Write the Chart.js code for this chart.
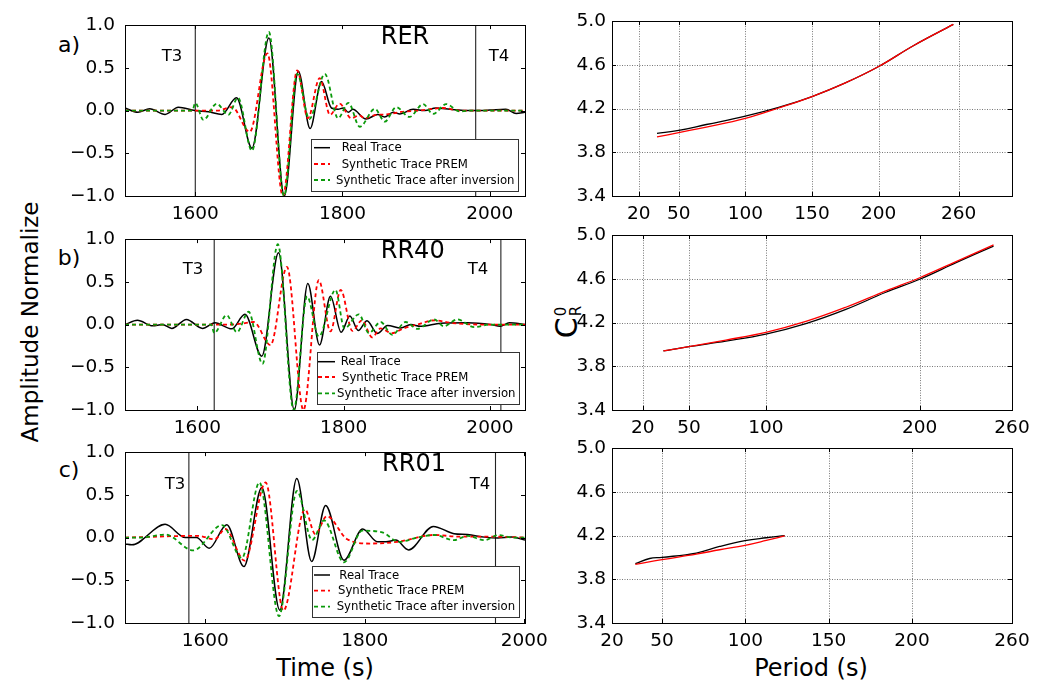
<!DOCTYPE html>
<html><head><meta charset="utf-8">
<script src="https://cdn.jsdelivr.net/npm/chart.js@4.4.0/dist/chart.umd.min.js"></script>
<style>
html,body{margin:0;padding:0;background:#fff;}
body{width:1049px;height:685px;overflow:hidden;position:relative;font-family:"DejaVu Sans",sans-serif;}
canvas{position:absolute;}
.lbl{position:absolute;white-space:nowrap;color:#000;transform:translate(-50%,-50%);line-height:1;}
.rot{transform:translate(-50%,-50%) rotate(-90deg);}
</style></head><body>
<div class="lbl" style="left:69px;top:45px;font-size:22px">a)</div>
<div class="lbl" style="left:69px;top:258px;font-size:22px">b)</div>
<div class="lbl" style="left:69px;top:470px;font-size:22px">c)</div>
<div class="lbl rot" style="left:30px;top:322px;font-size:23px">Amplitude Normalize</div>
<div class="lbl" style="left:325px;top:668px;font-size:24px">Time (s)</div>
<div class="lbl" style="left:811px;top:668px;font-size:24px">Period (s)</div>
<div class="lbl rot" style="left:568px;top:322px;font-size:30px">C<span style="display:inline-flex;flex-direction:column;font-size:15px;line-height:1;vertical-align:middle;margin-left:1px"><span>0</span><span>R</span></span></div>
<script>
// ---------- DATA ----------
const legendLabels = ['Real Trace', 'Synthetic Trace PREM', 'Synthetic Trace after inversion'];
const stationNames = ['RER', 'RR40', 'RR01'];

// Panel a) RER  (time s, normalized amplitude)
const rerRealT = [1504.5,1522,1538,1559,1577,1599.5,1618,1636,1656,1677,1700,1721,1740,1756,1771.5,1785,1794,1801,1808,1814,1832,1848,1857,1869,1878,1896,1912,1927,1946,1968,1982,2000,2022,2036,2048];
const rerRealA = [0.03,-0.02,0.02,-0.045,0.04,0.0,-0.015,-0.045,0.15,-0.44,0.85,-1.0,0.46,-0.21,0.34,0.03,0.015,0.03,-0.02,0.015,-0.1,-0.045,-0.075,-0.02,-0.04,0.015,0.0,0.03,0.015,0.0,0.0,0.005,0.015,-0.035,-0.02];
const rerPremT = [1504.5,1630,1650,1674,1698,1719,1738.5,1753,1769,1783,1796,1812,1823,1830,1846,1860,1880,1905,1937,1960,2000,2048];
const rerPremA = [0,0,0.04,-0.25,0.67,-1.0,0.47,-0.09,0.38,-0.05,0.08,-0.09,-0.055,-0.09,-0.05,-0.045,-0.015,0.0,0.03,0.0,0.0,0.0];
const rerInvT = [1504.5,1596,1600,1611,1629,1645,1658,1677,1700,1720.5,1738.5,1755,1776,1794,1808,1823.5,1844,1857.5,1873,1891,1909.5,1923,1941,1959,1977,2048];
const rerInvA = [0,0,0.09,-0.11,0.08,-0.05,0.15,-0.47,0.92,-1.0,0.43,-0.1,0.43,-0.09,0.09,-0.19,0.02,-0.13,0.04,-0.075,0.075,-0.04,0.075,-0.01,0.0,0.0];
const rerMarks = [1600, 1981];

// Panel b) RR40
const rr40RealT = [1501,1518,1539,1552,1565,1585,1607,1624,1647,1665,1688,1711,1732.5,1751,1767,1782,1796.6,1808.5,1820,1832,1846,1860,1878,1892,1905,1933,1969,2001,2014,2026.5,2048];
const rr40RealA = [0,0.05,-0.015,0.0,-0.045,0.06,-0.045,0.02,-0.05,0.12,-0.37,0.84,-1.0,0.48,-0.24,0.33,-0.09,0.1,-0.07,0.045,-0.105,-0.01,-0.04,0.0,-0.02,0.015,0.02,0.0,-0.02,0.02,0.0];
const rr40PremT = [1501,1640,1660,1677,1700,1722.5,1745,1766,1782,1796,1812,1825,1839,1850.5,1866,1882,1901,1924,1946,1990,2048];
const rr40PremA = [0,0,0.01,0.03,-0.24,0.675,-1.0,0.52,-0.08,0.405,-0.075,0.05,-0.15,-0.045,-0.1,-0.045,0.0,0.05,0.02,0.0,0.0];
const rr40InvT = [1501,1619,1623,1640,1654,1670,1689,1710,1731.7,1750,1766,1788.8,1801,1820.8,1834.5,1850.5,1866.5,1884.8,1901,1923.7,1937,1955.6,1978.5,2001,2048];
const rr40InvA = [0,0,-0.1,0.11,-0.09,0.15,-0.46,0.94,-1.0,0.33,-0.14,0.405,-0.045,0.12,-0.1,0.03,-0.12,0.03,-0.05,0.06,-0.02,0.06,-0.03,0.0,0.0];
const rr40Marks = [1623, 2015];

// Panel c) RR01
const rr01RealT = [1499.4,1508,1549.7,1575,1589,1605,1627,1648.5,1671,1693.5,1714.8,1733.5,1751,1774,1797.5,1816,1826.7,1839,1855,1886,1912,1929,1950,1967,1984,2001];
const rr01RealA = [-0.075,-0.085,0.155,0.0,0.0,-0.125,0.15,-0.34,0.585,-0.85,0.69,-0.28,0.375,-0.265,0.1,-0.05,-0.05,-0.03,-0.145,0.13,0.045,0.035,0.005,-0.005,0.005,-0.03];
const rr01PremT = [1499.4,1590,1612,1625,1649.5,1675.8,1698,1725,1738,1752.5,1778,1807.5,1841,1887,1920,1962,2001];
const rr01PremA = [0,0.02,-0.02,0.1,-0.27,0.645,-0.855,0.33,0.04,0.25,-0.02,-0.07,-0.05,0.03,0.01,0.01,0.0];
const rr01InvT = [1499.4,1520,1550,1585,1621,1646,1668,1692.5,1715,1734,1749,1774,1797,1822,1843,1866,1887,1912,1929,1950,1968,1985,2001];
const rr01InvA = [0,0.0,0.035,-0.15,0.145,-0.24,0.645,-0.92,0.545,-0.03,0.2,-0.29,0.08,0.06,-0.05,0.0,0.03,-0.03,0.02,-0.03,0.03,0.0,0.0];
const rr01Marks = [1579.5, 1964];

const waveXRange = [[1504.5, 2048], [1501, 2048], [1499.4, 2001]];
const waveXTicks = [1600, 1800, 2000];
const waveYTicks = [-1.0, -0.5, 0.0, 0.5, 1.0];

// Dispersion panels (period s, C_R^0 km/s)
const disp1PerBlack = [33.75,50,70.75,100,125,150,175,200,226,256];
const disp1VelBlack = [3.973,4.0,4.054,4.13,4.21,4.31,4.435,4.585,4.775,4.97];
const disp1PerRed   = [33.75,50,70.75,100,125,150,175,200,226,256];
const disp1VelRed   = [3.94,3.98,4.03,4.11,4.205,4.31,4.435,4.585,4.775,4.97];
const disp2PerBlack = [33.4,50,74,100,126,152,178,200,224,248];
const disp2VelBlack = [3.94,3.98,4.03,4.094,4.19,4.32,4.477,4.596,4.75,4.90];
const disp2PerRed   = [33.4,50,74,100,126,152,178,200,224,248];
const disp2VelRed   = [3.94,3.98,4.04,4.11,4.21,4.34,4.49,4.61,4.76,4.91];
const disp3PerBlack = [34,42.6,50,70.6,84.6,99.8,112.6,123.6];
const disp3VelBlack = [3.943,3.99,4.0,4.04,4.1,4.153,4.18,4.2];
const disp3PerRed   = [34,50,70.6,84.6,99.8,112.6,123.6];
const disp3VelRed   = [3.937,3.98,4.03,4.07,4.11,4.155,4.197];

const dispXRange = [[0, 300], [0, 260], [20, 260]];
const dispXTicks = [[20,50,100,150,200,260], [20,50,100,200,260], [20,50,100,150,200,260]];
const dispYTicks = [3.4, 3.8, 4.2, 4.6, 5.0];

// ---------- DRAWING ----------
const FONT = '"DejaVu Sans", sans-serif';
const pts = (xs, ys) => xs.map((x, i) => ({x: x, y: ys[i]}));
const RED = '#ff0000', GREEN = '#0a9a0a';
const DASH = [4, 3];

const decor = {
  id: 'decor',
  beforeDatasetsDraw(chart, args, o) {
    if (!o.grid) return;
    const {ctx, chartArea: a, scales: {x, y}} = chart;
    ctx.save();
    ctx.strokeStyle = '#777'; ctx.lineWidth = 1; ctx.setLineDash([1, 1.5]);
    x.ticks.forEach(t => { const p = Math.round(x.getPixelForValue(t.value)) + 0.5;
      ctx.beginPath(); ctx.moveTo(p, a.top); ctx.lineTo(p, a.bottom); ctx.stroke(); });
    y.ticks.forEach(t => { const p = Math.round(y.getPixelForValue(t.value)) + 0.5;
      ctx.beginPath(); ctx.moveTo(a.left, p); ctx.lineTo(a.right, p); ctx.stroke(); });
    ctx.restore();
  },
  afterDatasetsDraw(chart, args, o) {
    const {ctx, chartArea: a, scales: {x, y}} = chart;
    ctx.save();
    ctx.setLineDash([]);
    ctx.strokeStyle = '#000'; ctx.lineWidth = 1;
    const L = 4;
    x.ticks.forEach(t => { const p = Math.round(x.getPixelForValue(t.value)) + 0.5;
      ctx.beginPath(); ctx.moveTo(p, a.bottom); ctx.lineTo(p, a.bottom - L);
      ctx.moveTo(p, a.top); ctx.lineTo(p, a.top + L); ctx.stroke(); });
    y.ticks.forEach(t => { const p = Math.round(y.getPixelForValue(t.value)) + 0.5;
      ctx.beginPath(); ctx.moveTo(a.left, p); ctx.lineTo(a.left + L, p);
      ctx.moveTo(a.right, p); ctx.lineTo(a.right - L, p); ctx.stroke(); });
    ctx.strokeRect(Math.round(a.left) + 0.5, Math.round(a.top) + 0.5, Math.round(a.right - a.left), Math.round(a.bottom - a.top));
    const ox = o.ox, oy = o.oy;
    ctx.fillStyle = '#000'; ctx.textBaseline = 'middle'; ctx.textAlign = 'center';
    (o.texts || []).forEach(t => {
      ctx.font = t.size + 'px ' + FONT;
      ctx.fillText(t.text, t.x - ox, t.y - oy);
    });
    if (o.legend) {
      const lg = o.legend;
      ctx.fillStyle = '#fff'; ctx.strokeStyle = '#333'; ctx.lineWidth = 1;
      ctx.fillRect(lg.box[0] - ox, lg.box[1] - oy, lg.box[2] - lg.box[0], lg.box[3] - lg.box[1]);
      ctx.strokeRect(Math.round(lg.box[0] - ox) + 0.5, Math.round(lg.box[1] - oy) + 0.5, Math.round(lg.box[2] - lg.box[0]), Math.round(lg.box[3] - lg.box[1]));
      ctx.textAlign = 'left'; ctx.font = '11.7px ' + FONT;
      const styles = [{c: '#000', d: [], w: 1.5}, {c: RED, d: DASH, w: 1.8}, {c: GREEN, d: DASH, w: 1.8}];
      legendLabels.forEach((lab, i) => {
        const yy = lg.rows[i] - oy;
        ctx.strokeStyle = styles[i].c; ctx.lineWidth = styles[i].w; ctx.setLineDash(styles[i].d);
        ctx.beginPath(); ctx.moveTo(lg.line[0] - ox, yy); ctx.lineTo(lg.line[1] - ox, yy); ctx.stroke();
        ctx.fillStyle = '#000';
        ctx.fillText(lab, lg.tx[i] - ox, yy + 0.5);
      });
      ctx.setLineDash([]);
    }
    ctx.restore();
  }
};
Chart.register(decor);

const AXW = 55, PADR = 30, PADT = 14, AXH = 34;
function makePanel(areaX, areaY, areaW, areaH, xr, xt, yr, yt, yfmt, ypad, datasets, decorOpts) {
  const cv = document.createElement('canvas');
  const W = AXW + areaW + PADR, H = PADT + areaH + AXH;
  cv.width = W; cv.height = H;
  const left = areaX - AXW, top = areaY - PADT;
  cv.style.left = left + 'px'; cv.style.top = top + 'px';
  cv.style.width = W + 'px'; cv.style.height = H + 'px';
  document.body.appendChild(cv);
  decorOpts.ox = left; decorOpts.oy = top;
  return new Chart(cv, {
    type: 'line',
    data: {datasets: datasets},
    options: {
      responsive: false, animation: false, events: [], devicePixelRatio: window.devicePixelRatio || 1,
      layout: {padding: {left: 0, right: PADR, top: PADT, bottom: 0}, autoPadding: false},
      plugins: {legend: {display: false}, tooltip: {enabled: false}, decor: decorOpts},
      elements: {point: {radius: 0}},
      scales: {
        x: {type: 'linear', min: xr[0], max: xr[1],
            afterBuildTicks: s => { s.ticks = xt.map(v => ({value: v})); },
            afterFit: s => { s.height = AXH; },
            grid: {display: false, drawTicks: false}, border: {display: false},
            ticks: {font: {family: FONT, size: 18.5}, color: '#000', padding: 7, maxRotation: 0, minRotation: 0, autoSkip: false,
                    callback: v => String(v)}},
        y: {type: 'linear', min: yr[0], max: yr[1],
            afterBuildTicks: s => { s.ticks = yt.map(v => ({value: v})); },
            afterFit: s => { s.width = AXW; },
            grid: {display: false, drawTicks: false}, border: {display: false},
            ticks: {font: {family: FONT, size: 18.5}, color: '#000', padding: ypad, autoSkip: false, callback: yfmt}}
      }
    }
  });
}

const waveFmt = v => (v < 0 ? '\u2212' : '') + Math.abs(v).toFixed(1);
const dispFmt = v => v.toFixed(1);

function waveSets(rt, ra, pt, pa, it, ia, marks) {
  const sets = [
    {data: pts(it, ia), borderColor: GREEN, borderWidth: 1.8, borderDash: DASH, cubicInterpolationMode: 'monotone', order: 1, clip: 0},
    {data: pts(pt, pa), borderColor: RED, borderWidth: 1.8, borderDash: DASH, cubicInterpolationMode: 'monotone', order: 2, clip: 0},
    {data: pts(rt, ra), borderColor: '#000', borderWidth: 1.5, cubicInterpolationMode: 'monotone', order: 3, clip: 0}
  ];
  marks.forEach(m => sets.push({data: [{x: m, y: -1}, {x: m, y: 1}], borderColor: '#222', borderWidth: 1.1, tension: 0, order: 4, clip: 0}));
  return sets;
}
function dispSets(bt, bv, rt, rv) {
  return [
    {data: pts(rt, rv), borderColor: RED, borderWidth: 1.3, tension: 0.4, order: 1, clip: 0},
    {data: pts(bt, bv), borderColor: '#000', borderWidth: 1.3, tension: 0.4, order: 2, clip: 0}
  ];
}

const ROWS = [18, 232, 445], AREA_H = 178;
const waveData = [
  [rerRealT, rerRealA, rerPremT, rerPremA, rerInvT, rerInvA, rerMarks],
  [rr40RealT, rr40RealA, rr40PremT, rr40PremA, rr40InvT, rr40InvA, rr40Marks],
  [rr01RealT, rr01RealA, rr01PremT, rr01PremA, rr01InvT, rr01InvA, rr01Marks]
];
const waveDecor = [
  {texts: [{text: stationNames[0], x: 405, y: 38, size: 24}, {text: 'T3', x: 172, y: 57, size: 16.5}, {text: 'T4', x: 499, y: 57, size: 16.5}],
   legend: {box: [311, 139, 518, 191], rows: [147.7, 164, 180], line: [314, 330], tx: [341.7, 341.7, 336]}},
  {texts: [{text: stationNames[1], x: 412.7, y: 252, size: 24}, {text: 'T3', x: 193, y: 270, size: 16.5}, {text: 'T4', x: 478, y: 270, size: 16.5}],
   legend: {box: [316.7, 352, 519, 404], rows: [361.7, 377, 393.3], line: [318, 335], tx: [340.7, 342, 337]}},
  {texts: [{text: stationNames[2], x: 414, y: 465, size: 24}, {text: 'T3', x: 175, y: 485, size: 16.5}, {text: 'T4', x: 480, y: 485, size: 16.5}],
   legend: {box: [311.7, 566, 519, 617.3], rows: [575, 590.7, 606.7], line: [314, 330], tx: [339.3, 338, 336.7]}}
];
const dispData = [
  [disp1PerBlack, disp1VelBlack, disp1PerRed, disp1VelRed],
  [disp2PerBlack, disp2VelBlack, disp2PerRed, disp2VelRed],
  [disp3PerBlack, disp3VelBlack, disp3PerRed, disp3VelRed]
];

for (let r = 0; r < 3; r++) {
  const w = waveData[r];
  makePanel(125, ROWS[r], 400, AREA_H, waveXRange[r], waveXTicks, [-1, 1], waveYTicks, waveFmt, 10,
            waveSets(w[0], w[1], w[2], w[3], w[4], w[5], w[6]), waveDecor[r]);
  const d = dispData[r];
  makePanel(612, ROWS[r], 400, AREA_H, dispXRange[r], dispXTicks[r], [3.4, 5.0], dispYTicks, dispFmt, 6,
            dispSets(d[0], d[1], d[2], d[3]), {grid: true, texts: []});
}
</script>
</body></html>
